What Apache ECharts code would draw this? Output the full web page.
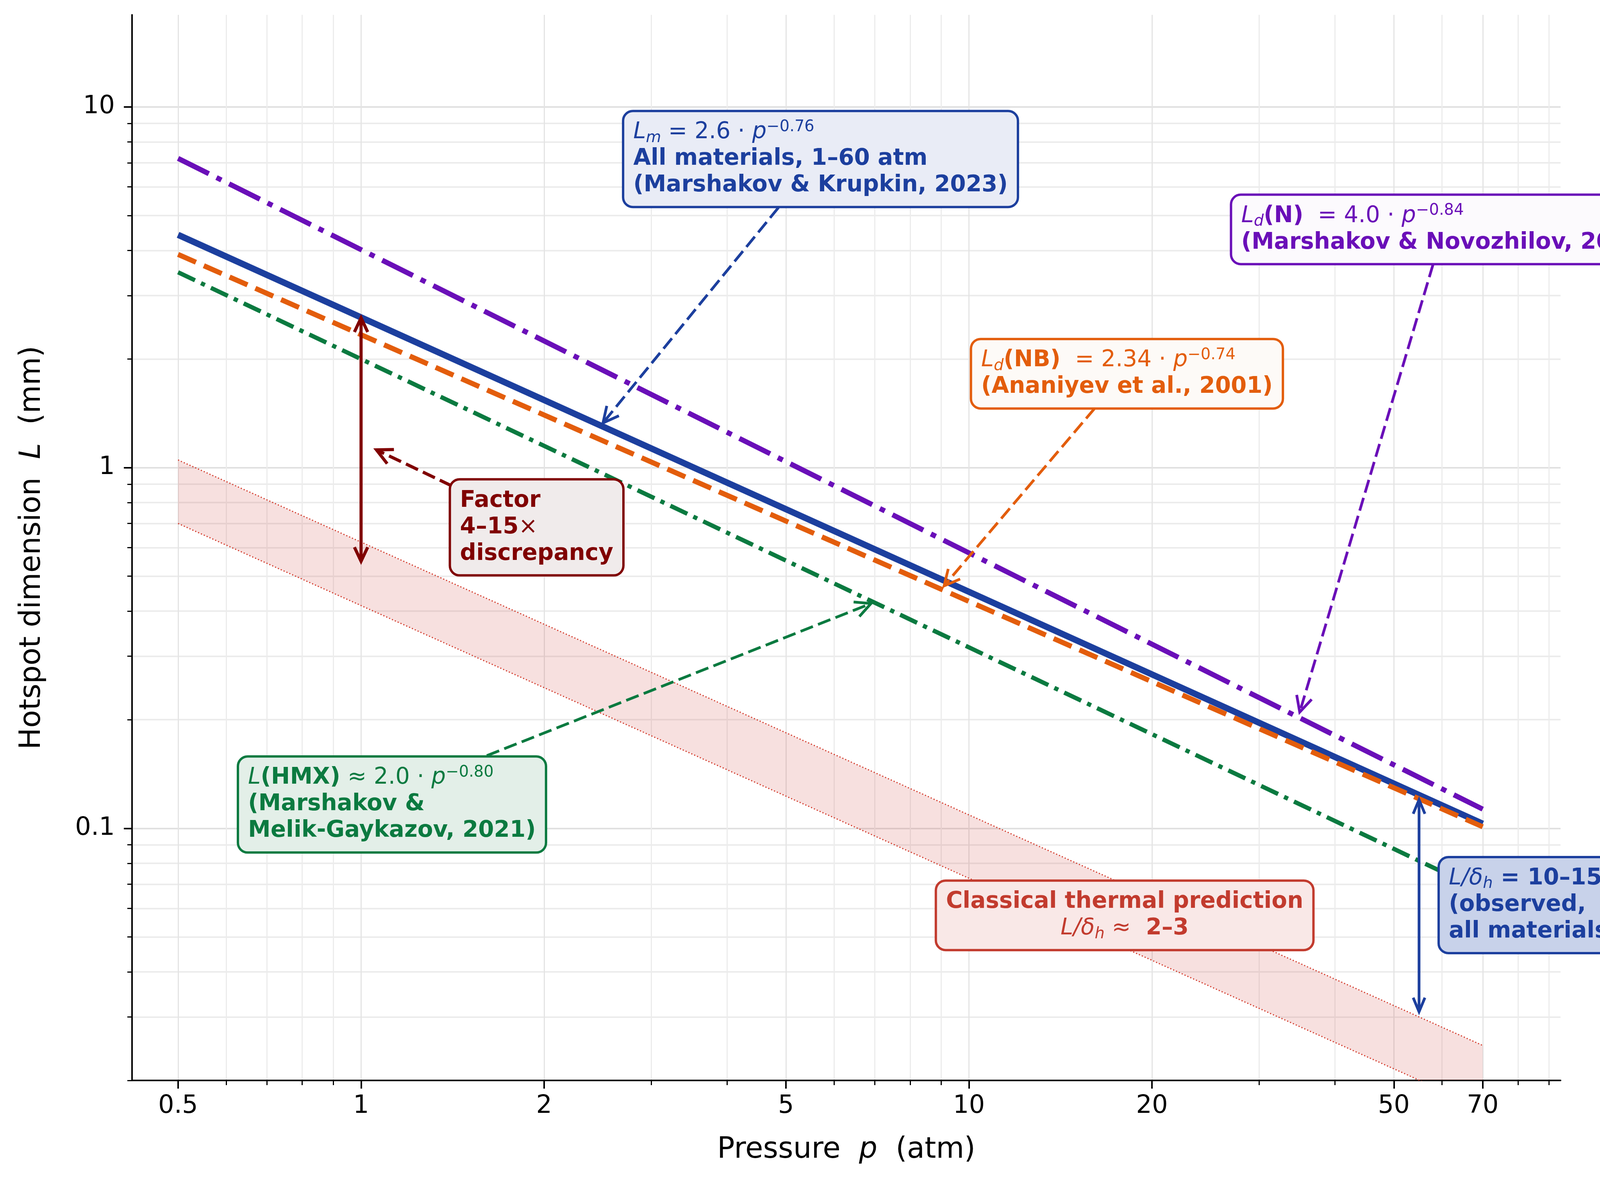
<!DOCTYPE html>
<html>
<head>
<meta charset="utf-8">
<script src="https://cdn.jsdelivr.net/npm/echarts@6/dist/echarts.min.js"></script>
<style>
  html, body { margin: 0; padding: 0; background: #fff; }
  #chart { width: 4297px; height: 3022px; }
</style>
</head>
<body>
<div id="chart"></div>
<script>
var FONT = '"DejaVu Sans", "Liberation Sans", sans-serif';

// values (p in atm, L in mm)
var pressure  = [0.5, 70];
var lmAll     = [4.42, 0.103];   // L_m, blue solid
var ldN       = [7.2, 0.113];    // L_d(N), purple dash-dot
var ldNB      = [3.9, 0.101];    // L_d(NB), orange dashed
var lHMX      = [3.48, 0.067];   // L(HMX), green dash-dot
var thermalHi = [1.05, 0.025];   // classical band, upper edge
var thermalLo = [0.70, 0.0167];  // classical band, lower edge

var xMajor = [0.5, 1, 2, 5, 10, 20, 50, 70];
var xMinor = [0.6, 0.7, 0.8, 0.9, 3, 4, 6, 7, 8, 9, 30, 40, 60, 80, 90];
var yMajor = [0.1, 1, 10];
var yMinor = [0.02, 0.03, 0.04, 0.05, 0.06, 0.07, 0.08, 0.09,
              0.2, 0.3, 0.4, 0.5, 0.6, 0.7, 0.8, 0.9,
              2, 3, 4, 5, 6, 7, 8, 9];

// annotation arrows: [p1, L1, p2, L2, style]
var arrows = [
    [4.86, 5.26, 2.5, 1.33, 0],
    [58, 3.66, 35, 0.21, 1],
    [16.1, 1.46, 9.1, 0.47, 2],
    [1.61, 0.159, 6.9, 0.42, 3],
    [1.41, 0.89, 1.06, 1.12, 4],
    [1, 2.6, 1, 0.55, 5],
    [55, 0.12, 55, 0.031, 6]
];

var BLUE = '#1c3f9e', PURPLE = '#6a0fb8', ORANGE = '#e35d0c', GREEN = '#0b7a40',
    MAROON = '#800000', RED = '#c23b2e';

var arrowStyles = [
    { color: BLUE,   width: 7, dash: [34, 14], both: false, len: 40, hw: 20 },
    { color: PURPLE, width: 7, dash: [34, 14], both: false, len: 40, hw: 20 },
    { color: ORANGE, width: 7, dash: [34, 14], both: false, len: 40, hw: 20 },
    { color: GREEN,  width: 7, dash: [34, 14], both: false, len: 40, hw: 20 },
    { color: MAROON, width: 8, dash: [34, 14], both: false, len: 40, hw: 20 },
    { color: MAROON, width: 8, dash: null,     both: true,  len: 36, hw: 17 },
    { color: BLUE,   width: 7, dash: null,     both: true,  len: 36, hw: 15 }
];

function pairs(ys) {
    return pressure.map(function (p, i) { return [p, ys[i]]; });
}

function head(tip, from, s) {
    var dx = tip[0] - from[0], dy = tip[1] - from[1];
    var d = Math.sqrt(dx * dx + dy * dy) || 1;
    var ux = dx / d, uy = dy / d;
    var bx = tip[0] - ux * s.len, by = tip[1] - uy * s.len;
    return {
        type: 'polyline',
        shape: { points: [[bx - uy * s.hw, by + ux * s.hw], tip, [bx + uy * s.hw, by - ux * s.hw]] },
        style: { stroke: s.color, lineWidth: s.width, fill: null, lineJoin: 'miter', lineCap: 'butt' }
    };
}

var chart = echarts.init(document.getElementById('chart'), null, { renderer: 'canvas' });

var tickLabel = { fontFamily: FONT, fontSize: 64, color: '#000' };
var titleRich = {
    n: { fontFamily: FONT, fontSize: 74, color: '#000' },
    i: { fontFamily: FONT, fontSize: 74, color: '#000', fontStyle: 'italic' }
};

chart.setOption({
    backgroundColor: '#fff',
    animation: false,
    grid: { left: 338, right: 302, top: 38, bottom: 255 },
    xAxis: [{
        type: 'log', min: 0.42, max: 94, position: 'bottom',
        name: '{n|Pressure  }{i|p}{n|  (atm)}',
        nameLocation: 'middle', nameGap: 142,
        nameTextStyle: { rich: titleRich },
        axisLine: { show: true, lineStyle: { color: '#000', width: 4 } },
        axisTick: { show: true, customValues: xMajor, length: 21, lineStyle: { color: '#000', width: 4 } },
        axisLabel: Object.assign({ customValues: xMajor, margin: 34,
            formatter: function (v) { return String(v); } }, tickLabel),
        splitLine: { show: true, lineStyle: { color: '#e4e4e4', width: 3 } },
        minorTick: { show: false }
    }, {
        type: 'log', min: 0.42, max: 94, position: 'bottom',
        axisLine: { show: false },
        axisTick: { show: true, customValues: xMinor, length: 12, lineStyle: { color: '#000', width: 3 } },
        axisLabel: { show: false },
        splitLine: { show: true, lineStyle: { color: '#ececec', width: 3 } }
    }],
    yAxis: [{
        type: 'log', min: 0.02, max: 18, position: 'left',
        name: '{n|Hotspot dimension  }{i|L}{n|  (mm)}',
        nameLocation: 'middle', nameGap: 218, nameRotate: 90,
        nameTextStyle: { rich: titleRich },
        axisLine: { show: true, lineStyle: { color: '#000', width: 4 } },
        axisTick: { show: true, customValues: yMajor, length: 21, lineStyle: { color: '#000', width: 4 } },
        axisLabel: Object.assign({ customValues: yMajor, margin: 44,
            formatter: function (v) { return String(v); } }, tickLabel),
        splitLine: { show: true, lineStyle: { color: '#e0e0e0', width: 4 } },
        minorTick: { show: false }
    }, {
        type: 'log', min: 0.02, max: 18, position: 'left',
        axisLine: { show: false },
        axisTick: { show: true, customValues: yMinor, length: 12, lineStyle: { color: '#000', width: 3 } },
        axisLabel: { show: false },
        splitLine: { show: true, lineStyle: { color: '#ececec', width: 4 } }
    }],
    series: [{
        type: 'custom', name: 'band', z: 1, silent: true, clip: true,
        data: [[pressure[0], thermalHi[0]]],
        renderItem: function (params, api) {
            var pts = [];
            for (var i = 0; i < pressure.length; i++) pts.push(api.coord([pressure[i], thermalHi[i]]));
            for (var j = pressure.length - 1; j >= 0; j--) pts.push(api.coord([pressure[j], thermalLo[j]]));
            return { type: 'polygon', shape: { points: pts }, style: { fill: 'rgba(205,60,55,0.16)' } };
        }
    }, {
        type: 'line', data: pairs(thermalHi), showSymbol: false, z: 2, silent: true,
        lineStyle: { color: '#d33a2b', width: 3, type: [3, 5] }
    }, {
        type: 'line', data: pairs(thermalLo), showSymbol: false, z: 2, silent: true,
        lineStyle: { color: '#d33a2b', width: 3, type: [3, 5] }
    }, {
        type: 'line', data: pairs(lmAll), showSymbol: false, z: 3, silent: true,
        lineStyle: { color: BLUE, width: 16 }
    }, {
        type: 'line', data: pairs(ldNB), showSymbol: false, z: 4, silent: true,
        lineStyle: { color: ORANGE, width: 13, type: [50, 22] }
    }, {
        type: 'line', data: pairs(lHMX), showSymbol: false, z: 4, silent: true,
        lineStyle: { color: GREEN, width: 11, type: [48, 17, 11, 17] }
    }, {
        type: 'line', data: pairs(ldN), showSymbol: false, z: 4, silent: true,
        lineStyle: { color: PURPLE, width: 13, type: [88, 22, 14, 22] }
    }, {
        type: 'custom', name: 'arrows', z: 6, silent: true, clip: false,
        data: arrows,
        encode: { x: [0, 2], y: [1, 3] },
        renderItem: function (params, api) {
            var a = api.coord([api.value(0), api.value(1)]);
            var b = api.coord([api.value(2), api.value(3)]);
            var s = arrowStyles[api.value(4)];
            var kids = [{
                type: 'line',
                shape: { x1: a[0], y1: a[1], x2: b[0], y2: b[1] },
                style: { stroke: s.color, lineWidth: s.width, lineDash: s.dash, lineCap: 'butt' }
            }, head(b, a, s)];
            if (s.both) kids.push(head(a, b, s));
            return { type: 'group', children: kids };
        }
    }]
});

// text boxes, anchored by their top-left corner in data coordinates
function rich(c, align) {
    var base = { fontFamily: FONT, fill: c, color: c, fontSize: 58, lineHeight: 68 };
    function st(extra) {
        var o = Object.assign({}, base, extra);
        if (align) o.align = align;
        return o;
    }
    return {
        n: st({}),
        i: st({ fontStyle: 'italic' }),
        b: st({ fontWeight: 'bold' }),
        sub: st({ fontStyle: 'italic', fontSize: 40, lineHeight: 34, verticalAlign: 'bottom' }),
        sup: st({ fontSize: 40, lineHeight: 40, verticalAlign: 'top' })
    };
}

var boxes = [
    { at: [2.71, 9.67], color: BLUE, fill: '#e9ecf6',
      text: '{i|L}{sub|m}{n| = 2.6 · }{i|p}{sup|−0.76}\n{b|All materials, 1–60 atm}\n{b|(Marshakov & Krupkin, 2023)}' },
    { at: [27.1, 5.67], color: PURPLE, fill: '#fcfafd',
      text: '{i|L}{sub|d}{b|(N)}{n|  = 4.0 · }{i|p}{sup|−0.84}\n{b|(Marshakov & Novozhilov, 2015)}' },
    { at: [10.12, 2.256], color: ORANGE, fill: '#fdfaf7',
      text: '{i|L}{sub|d}{b|(NB)}{n|  = 2.34 · }{i|p}{sup|−0.74}\n{b|(Ananiyev et al., 2001)}' },
    { at: [0.63, 0.157], color: GREEN, fill: '#e3efe8',
      text: '{i|L}{b|(HMX)}{n| ≈ 2.0 · }{i|p}{sup|−0.80}\n{b|(Marshakov &}\n{b|Melik-Gaykazov, 2021)}' },
    { at: [1.406, 0.921], color: MAROON, fill: '#f0ebeb',
      text: '{b|Factor}\n{b|4–15}{n|×}\n{b|discrepancy}' },
    { at: [8.86, 0.0711], color: RED, fill: '#f9e8e7', align: 'center',
      text: '{b|Classical thermal prediction}\n{i|L/δ}{sub|h}{n| ≈ }{b| 2–3}' },
    { at: [59.5, 0.0826], color: BLUE, fill: '#c8d2ea',
      text: '{i|L/δ}{sub|h}{b| = 10–15}\n{b|(observed,}\n{b|all materials)}' }
];

chart.setOption({
    graphic: boxes.map(function (bx) {
        var px = chart.convertToPixel({ xAxisIndex: 0, yAxisIndex: 0 }, bx.at);
        return {
            type: 'text', x: px[0], y: px[1], z: 100, silent: true,
            style: {
                text: bx.text,
                rich: rich(bx.color, bx.align),
                fontFamily: FONT, fontSize: 58,
                align: 'left', verticalAlign: 'top',
                backgroundColor: bx.fill,
                borderColor: bx.color, borderWidth: 6, borderRadius: 22,
                padding: [18, 23, 18, 23]
            }
        };
    })
});
</script>
</body>
</html>
